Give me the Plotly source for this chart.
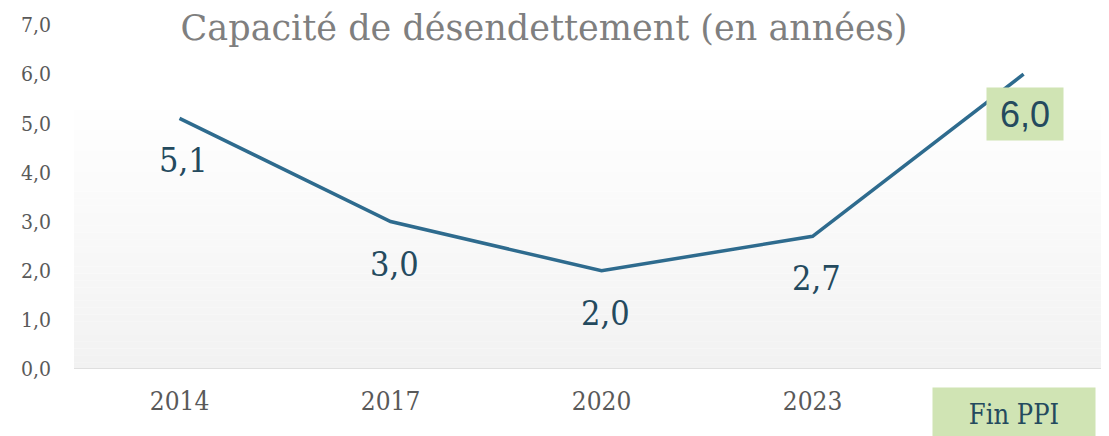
import plotly.graph_objects as go

categories = ["2014", "2017", "2020", "2023", "Fin PPI"]
values = [5.1, 3.0, 2.0, 2.7, 6.0]
value_labels = ["5,1", "3,0", "2,0", "2,7", "6,0"]
y_ticks = [0, 1, 2, 3, 4, 5, 6, 7]
title_text = "Capacité de désendettement (en années)"

SERIF = "DejaVu Serif Condensed, DejaVu Serif, serif"
SERIF_WIDE = "DejaVu Serif, serif"
LINE = "#2e6b8e"
LABEL = "#244a5e"
GREEN = "#d0e4b4"

W, H = 1101, 428  # page body has an 8px margin

x_idx = list(range(len(categories)))

fig = go.Figure()
fig.add_trace(go.Scatter(
    x=x_idx, y=values, mode="lines",
    line=dict(color=LINE, width=3.5),
    hoverinfo="skip", showlegend=False,
))

# gradient background bands (white at top -> light gray at bottom)
shapes = []
n = 40
top = 5.55
for i in range(n):
    y0 = top * i / n
    y1 = top * (i + 1) / n
    t = 1 - (i + 0.5) / n  # 1 at bottom, 0 at top
    c = int(round(255 - 13 * t))
    shapes.append(dict(type="rect", xref="paper", yref="y", x0=0, x1=1, y0=y0, y1=y1,
                       fillcolor=f"rgb({c},{c},{c})", line=dict(width=0), layer="below"))
shapes.append(dict(type="line", xref="paper", yref="y", x0=0, x1=1, y0=0, y1=0,
                   line=dict(color="#d9d9d9", width=1.5), layer="below"))

annotations = []
for i, (v, lab) in enumerate(zip(values, value_labels)):
    if i == len(values) - 1:
        annotations.append(dict(x=i, y=v, xref="x", yref="y", text=lab, showarrow=False,
                                xshift=1, yshift=-40, font=dict(family="Liberation Sans, Arial", size=36, color=LABEL),
                                bgcolor=GREEN, width=74, height=50, borderpad=1))
    else:
        annotations.append(dict(x=i, y=v, xref="x", yref="y", text=lab, showarrow=False,
                                xshift=4, yshift=-42, font=dict(family=SERIF, size=34, color=LABEL)))

# "Fin PPI" category label in green box
annotations.append(dict(x=len(categories) - 1, y=0, xref="x", yref="paper", text="Fin PPI",
                        showarrow=False, xshift=-10, yanchor="top", yshift=-18,
                        font=dict(family=SERIF, size=27, color=LABEL),
                        bgcolor=GREEN, width=158, height=48, borderpad=2))

fig.update_layout(
    width=W, height=H,
    margin=dict(l=66, r=1, t=17, b=67),
    paper_bgcolor="white", plot_bgcolor="white",
    separators=", ",
    shapes=shapes,
    annotations=annotations,
    title=dict(text=title_text, x=(544 - 8) / W, xanchor="center", y=1 - (28 - 8) / H, yanchor="middle",
               font=dict(family=SERIF_WIDE, size=35, color="#7f7f7f")),
    xaxis=dict(
        range=[-0.5, 4.4], tickmode="array", tickvals=x_idx,
        ticktext=categories[:-1] + [""],
        showgrid=False, zeroline=False, showline=False, ticks="",
        tickfont=dict(family=SERIF, size=26, color="#595959"),
        ticklabelstandoff=14,
    ),
    yaxis=dict(
        range=[0, 7], tickmode="array", tickvals=y_ticks, tickformat=".1f",
        showgrid=False, zeroline=False, showline=False, ticks="",
        tickfont=dict(family=SERIF, size=21, color="#595959"),
        ticklabelstandoff=22,
    ),
)

fig.write_html("out.html")
